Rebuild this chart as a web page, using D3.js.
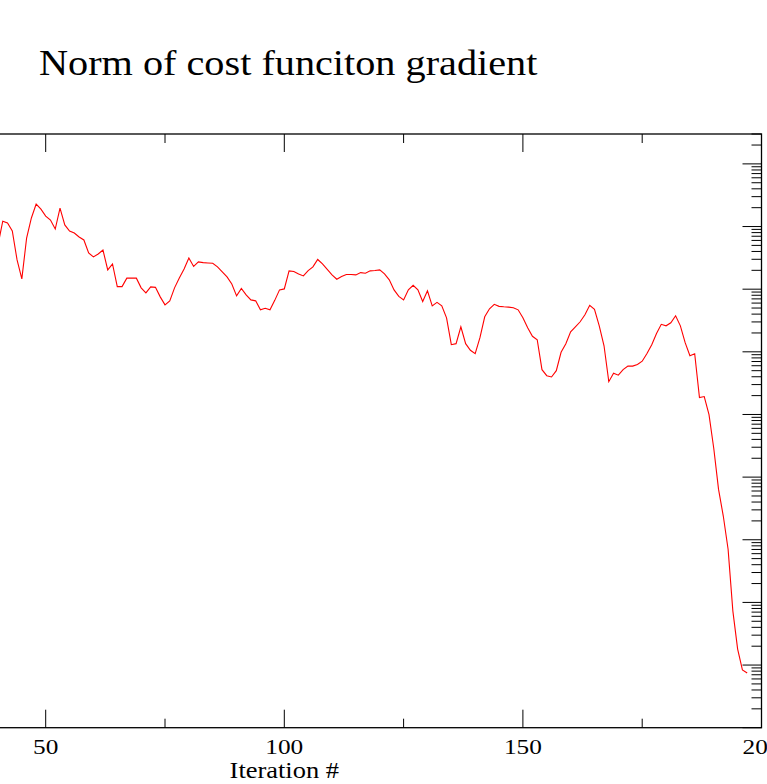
<!DOCTYPE html>
<html>
<head>
<meta charset="utf-8">
<script src="https://d3js.org/d3.v7.min.js"></script>
<style>
  body { margin: 0; background: #fff; }
  text { font-family: "Liberation Serif", "DejaVu Serif", serif; fill: #000; }
</style>
</head>
<body>
<svg id="chart" width="767" height="784"></svg>
<script>
var svg = d3.select("#chart"),
    width = +svg.attr("width"),
    height = +svg.attr("height");

// gradient norm per iteration, starting at iteration 40
var firstIter = 40;
var gradNorm = [
  5.07, 12.2, 11.4, 8.48, 2.93, 1.46, 6.56, 13.7, 22.8, 19.0,
  14.7, 12.7, 9.12, 19.7, 10.6, 8.48, 7.88, 6.81, 6.10, 3.78,
  3.27, 3.65, 4.22, 2.03, 2.53, 1.10, 1.10, 1.50, 1.50, 1.50,
  1.05, 0.873, 1.09, 1.07, 0.754, 0.562, 0.651, 1.05, 1.51, 2.10,
  3.15, 2.31, 2.72, 2.65, 2.62, 2.59, 2.27, 1.89, 1.57, 1.21,
  0.782, 1.03, 0.811, 0.675, 0.651, 0.468, 0.495, 0.468, 0.663, 0.975,
  1.01, 1.96, 1.92, 1.75, 1.63, 1.98, 2.27, 2.98, 2.53, 2.07,
  1.69, 1.44, 1.59, 1.72, 1.72, 1.69, 1.84, 1.80, 1.96, 1.99,
  2.03, 1.75, 1.41, 0.975, 0.768, 0.675, 0.975, 1.15, 0.975, 0.635,
  0.940, 0.542, 0.616, 0.542, 0.349, 0.130, 0.135, 0.251, 0.135, 0.106,
  0.0933, 0.168, 0.362, 0.486, 0.573, 0.532, 0.523, 0.517, 0.504, 0.468,
  0.349, 0.242, 0.177, 0.156, 0.0519, 0.0416, 0.0397, 0.0500, 0.0985, 0.135,
  0.209, 0.251, 0.302, 0.390, 0.552, 0.477, 0.260, 0.125, 0.0334, 0.0456,
  0.0424, 0.0519, 0.0594, 0.0592, 0.0630, 0.0709, 0.0943, 0.130, 0.196, 0.275,
  0.260, 0.291, 0.376, 0.260, 0.140, 0.0867, 0.0933, 0.0186, 0.0193, 0.00996,
  0.00286, 0.000637, 0.000237, 0.0000706, 0.00000727, 0.0000018, 0.000000836, 0.000000748
];

var xMajor = [0, 50, 100, 150, 200];
var xMinor = [25, 75, 125, 175];
var xLabels = [50, 100, 150, 200];
var yDomain = [1e-7, 3e2];

// plot box (left side lies outside the picture)
var pLeft = -192.9, pRight = 761.5, pTop = 134, pBottom = 727.7;
var stretch = 1.15;

var x = d3.scaleLinear().domain([0, 200]).range([pLeft, pRight]);
var y = d3.scaleLog().domain(yDomain).range([pBottom, pTop]);

svg.append("rect")
    .attr("x", pLeft).attr("y", pTop)
    .attr("width", pRight - pLeft).attr("height", pBottom - pTop)
    .attr("fill", "none")
    .attr("stroke", "#000")
    .attr("stroke-width", 1.3);

// x ticks, bottom and top, pointing inward
var xt = xMajor.map(function (v) { return {v: v, len: 18}; })
    .concat(xMinor.map(function (v) { return {v: v, len: 9}; }));
svg.append("g").selectAll("line")
    .data(xt).enter().append("line")
    .attr("x1", function (d) { return x(d.v); })
    .attr("x2", function (d) { return x(d.v); })
    .attr("y1", pBottom)
    .attr("y2", function (d) { return pBottom - d.len; })
    .attr("stroke", "#000");
svg.append("g").selectAll("line")
    .data(xt).enter().append("line")
    .attr("x1", function (d) { return x(d.v); })
    .attr("x2", function (d) { return x(d.v); })
    .attr("y1", pTop)
    .attr("y2", function (d) { return pTop + d.len; })
    .attr("stroke", "#000");

// log ticks on the y axis
var yt = [];
for (var k = -7; k <= 2; k++) {
  for (var m = 1; m <= 9; m++) {
    var v = m * Math.pow(10, k);
    if (v <= yDomain[1] * 1.0001) yt.push({v: v, len: m === 1 ? 19 : 10});
  }
}
svg.append("g").selectAll("line")
    .data(yt).enter().append("line")
    .attr("x1", pRight)
    .attr("x2", function (d) { return pRight - d.len; })
    .attr("y1", function (d) { return y(d.v); })
    .attr("y2", function (d) { return y(d.v); })
    .attr("stroke", "#000");
svg.append("g").selectAll("line")
    .data(yt).enter().append("line")
    .attr("x1", pLeft)
    .attr("x2", function (d) { return pLeft + d.len; })
    .attr("y1", function (d) { return y(d.v); })
    .attr("y2", function (d) { return y(d.v); })
    .attr("stroke", "#000");

// x tick labels
svg.append("g").selectAll("text")
    .data(xLabels).enter().append("text")
    .attr("transform", function (d) { return "translate(" + x(d) + ",754) scale(" + stretch + ",1)"; })
    .attr("text-anchor", "middle")
    .style("font-size", "22px")
    .text(function (d) { return d; });

svg.append("text")
    .attr("transform", "translate(" + x(100) + ",778) scale(" + stretch + ",1)")
    .attr("text-anchor", "middle")
    .style("font-size", "23px")
    .text("Iteration #");

svg.append("text")
    .attr("transform", "translate(39,75) scale(" + stretch + ",1)")
    .style("font-size", "35px")
    .text("Norm of cost funciton gradient");

var line = d3.line()
    .x(function (d, i) { return x(firstIter + i); })
    .y(function (d) { return y(d); });

svg.append("path")
    .datum(gradNorm)
    .attr("fill", "none")
    .attr("stroke", "#ff0000")
    .attr("stroke-width", 1.1)
    .attr("d", line);
</script>
</body>
</html>
